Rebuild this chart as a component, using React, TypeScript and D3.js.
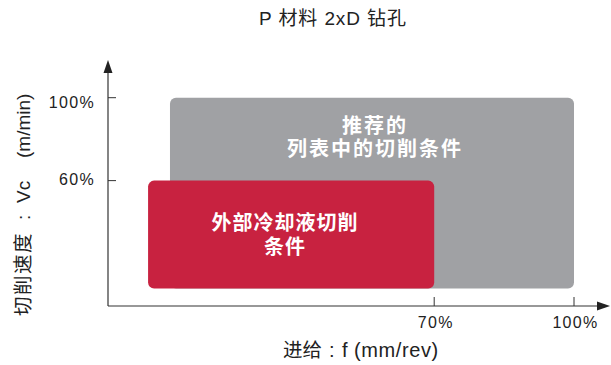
import React from "react";
import * as d3 from "d3";

const title = "P 材料 2xD 钻孔";
const xLabelParts = ["进给", ":", "f", "(mm/rev)"];
const yLabelParts = ["切削速度", ":", "Vc", "(m/min)"];
const xTicks = [70, 100];
const yTicks = [60, 100];
const zoneNames = ["recommended", "external"];
const zoneX0 = [13.3, 8.6];
const zoneX1 = [100, 70];
const zoneY0 = [8, 8];
const zoneY1 = [100, 60];
const zoneLines = [["推荐的", "列表中的切削条件"], ["外部冷却液切削", "条件"]];
const zoneColors = ["#a0a1a4", "#c82240"];

const W = 611;
const H = 365;
const FONT = "'Liberation Sans', Arial, 'Noto Sans CJK SC', sans-serif";

export default function App() {
  const x = d3.scaleLinear().domain([0, 100]).range([108, 574]);
  const y = d3.scaleLinear().domain([0, 100]).range([305, 97.7]);
  const axisY = 306;
  const axisX = 108;
  const zones = zoneNames.map((n, i) => ({
    n, x0: zoneX0[i], x1: zoneX1[i], y0: zoneY0[i], y1: zoneY1[i], lines: zoneLines[i], color: zoneColors[i],
  }));
  const textStyle = {
    recommended: { cx: 374, base: 132.5, ls: 2 },
    external: { cx: 284.5, base: 230, ls: 1 },
  } as Record<string, { cx: number; base: number; ls: number }>;
  return (
    <svg width={W} height={H} style={{ position: "absolute", left: 0, top: 0, display: "block" }}
      fontFamily={FONT}>
      <rect width={W} height={H} fill="#fff" />
      <text x={259} y={25} fontSize={19} letterSpacing={0.9} fill="#222">{title}</text>
      {zones.map((z) => (
        <g key={z.n}>
          <rect x={x(z.x0)} y={y(z.y1)} width={x(z.x1) - x(z.x0)} height={y(z.y0) - y(z.y1)}
            rx={6} ry={6} fill={z.color} />
          {z.lines.map((l, j) => (
            <text key={j} x={textStyle[z.n].cx + textStyle[z.n].ls / 2} y={textStyle[z.n].base + j * 23.7}
              textAnchor="middle" fontSize={20} fontWeight="bold" fill="#fff"
              letterSpacing={textStyle[z.n].ls}>{l}</text>
          ))}
        </g>
      ))}
      {/* axes */}
      <line x1={axisX} y1={axisY} x2={600} y2={axisY} stroke="#333" strokeWidth={1.2} />
      <line x1={axisX} y1={axisY} x2={axisX} y2={70} stroke="#333" strokeWidth={1.2} />
      <path d={`M610,${axisY} L597,${axisY - 4.5} L597,${axisY + 4.5} Z`} fill="#222" />
      <path d={`M${axisX},60 L${axisX - 4.5},73 L${axisX + 4.5},73 Z`} fill="#222" />
      {xTicks.map((t) => (
        <g key={t}>
          <line x1={x(t)} x2={x(t)} y1={axisY} y2={axisY - 9} stroke="#333" strokeWidth={1} />
          <text x={x(t) + 1.5} y={328.3} textAnchor="middle" fontSize={16} letterSpacing={1.3} fill="#222">{t}%</text>
        </g>
      ))}
      {yTicks.map((t) => (
        <g key={t}>
          <line x1={axisX} x2={axisX + 8} y1={y(t)} y2={y(t)} stroke="#333" strokeWidth={1} />
          <text x={95} y={t === 100 ? 108.3 : 185} textAnchor="end" fontSize={16} letterSpacing={1.3} fill="#222">{t}%</text>
        </g>
      ))}
      <text y={357} fill="#222" fontSize={20}>
        <tspan x={283} fontSize={19.5}>{xLabelParts[0]}</tspan>
        <tspan x={329}>{xLabelParts[1]}</tspan>
        <tspan x={342}>{xLabelParts[2]}</tspan>
        <tspan x={354} letterSpacing={0.6}>{xLabelParts[3]}</tspan>
      </text>
      <g transform="translate(29.5,316) rotate(-90)">
        <text y={0} fill="#222" fontSize={19}>
          <tspan x={0} fontSize={19.5} letterSpacing={1.5}>{yLabelParts[0]}</tspan>
          <tspan x={96}>{yLabelParts[1]}</tspan>
          <tspan x={113}>{yLabelParts[2]}</tspan>
          <tspan x={158}>{yLabelParts[3]}</tspan>
        </text>
      </g>
    </svg>
  );
}
